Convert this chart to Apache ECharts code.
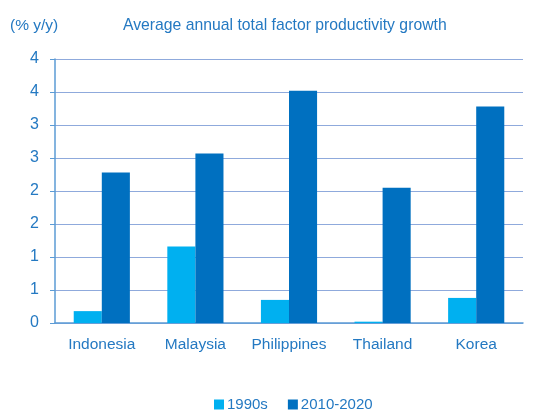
<!DOCTYPE html>
<html>
<head>
<meta charset="utf-8">
<script src="https://cdn.jsdelivr.net/npm/echarts@6/dist/echarts.min.js"></script>
<style>
  html, body { margin: 0; padding: 0; background: #fff; }
  #main { width: 544px; height: 411px; }
</style>
</head>
<body>
<div id="main"></div>
<script>
var countries = ["Indonesia", "Malaysia", "Philippines", "Thailand", "Korea"];
var s1990s = [0.18, 1.16, 0.35, 0.02, 0.38];
var s2010 = [2.28, 2.57, 3.52, 2.05, 3.28];

var txt = "#2479C2";
var chart = echarts.init(document.getElementById("main"));
var option = {
    animation: false,
    textStyle: { fontFamily: "Liberation Sans, Arial, sans-serif" },
    title: [
        {
            text: "Average annual total factor productivity growth",
            left: 118, top: 13,
            textStyle: { color: txt, fontSize: 15.75, fontWeight: "normal" }
        },
        {
            text: "(% y/y)",
            left: 5, top: 13,
            textStyle: { color: txt, fontSize: 15.5, fontWeight: "normal" }
        }
    ],
    legend: {
        bottom: -6,
        left: 209,
        itemWidth: 10,
        itemHeight: 10,
        itemGap: 20,
        icon: "rect",
        textStyle: { color: txt, fontSize: 15, padding: [0, 0, 0, -2] },
        data: ["1990s", "2010-2020"]
    },
    grid: { left: 55, right: 21, top: 59, bottom: 88 },
    xAxis: {
        type: "category",
        data: countries,
        axisLine: { lineStyle: { color: "#5B9BD5", width: 1.5 } },
        axisTick: { lineStyle: { color: "#5B9BD5" }, length: 5 },
        axisLabel: { color: txt, fontSize: 15.5, margin: 14, interval: 0 }
    },
    yAxis: {
        type: "value",
        min: 0, max: 4, interval: 0.5,
        axisLine: { show: true, lineStyle: { color: "#5B9BD5", width: 1.5 } },
        axisTick: { show: true, length: 5, lineStyle: { color: "#5B9BD5" } },
        axisLabel: {
            color: txt, fontSize: 16, margin: 16,
            formatter: function (v) { return Math.round(v); }
        },
        splitLine: { lineStyle: { color: "#8FAADC", width: 1 } }
    },
    series: [
        {
            name: "1990s", type: "bar", data: s1990s,
            barGap: 0, barCategoryGap: "40%",
            itemStyle: { color: "#00B0F0" }
        },
        {
            name: "2010-2020", type: "bar", data: s2010,
            itemStyle: { color: "#0070C0" }
        }
    ]
};
chart.setOption(option);
</script>
</body>
</html>
